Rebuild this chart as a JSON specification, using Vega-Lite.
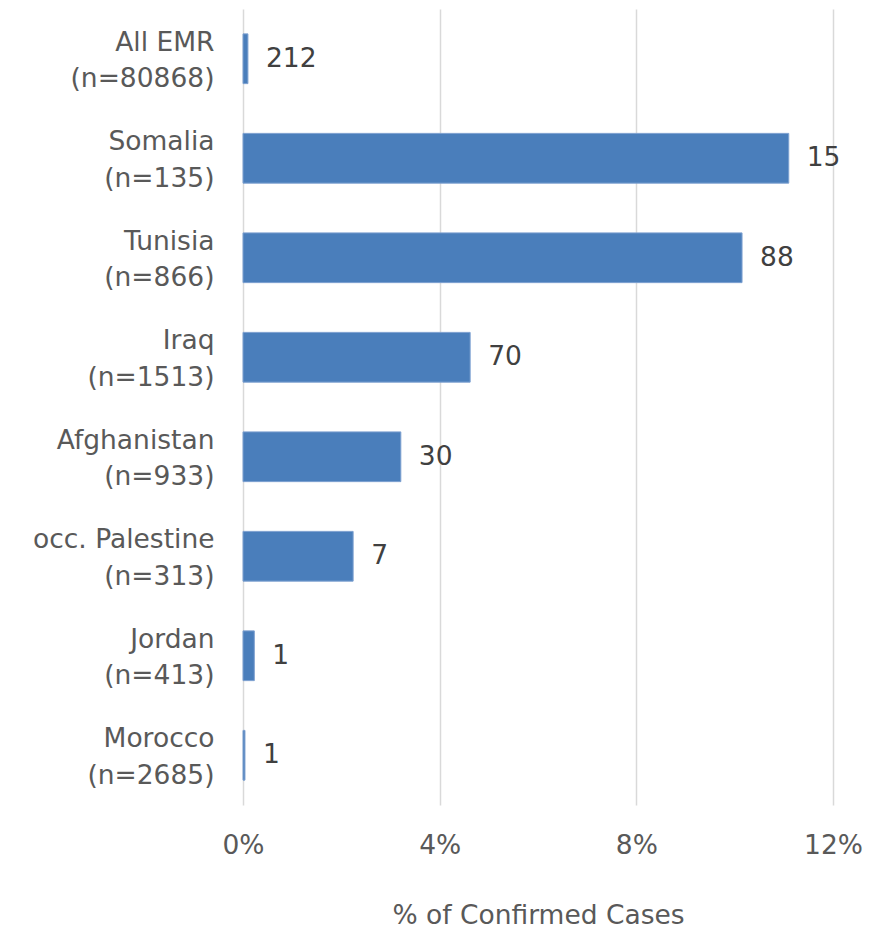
{
  "$schema": "https://vega.github.io/schema/vega-lite/v6.json",
  "width": 590,
  "height": 796,
  "autosize": {"type": "none"},
  "padding": {"left": 243, "top": 9, "right": 48, "bottom": 125},
  "background": "white",
  "config": {"view": {"stroke": null}, "font": "DejaVu Sans"},
  "data": {
    "values": [
      {"country": "All EMR|(n=80868)", "pct": 0.0010, "n": "212"},
      {"country": "Somalia|(n=135)", "pct": 0.1110, "n": "15"},
      {"country": "Tunisia|(n=866)", "pct": 0.1015, "n": "88"},
      {"country": "Iraq|(n=1513)", "pct": 0.0462, "n": "70"},
      {"country": "Afghanistan|(n=933)", "pct": 0.0321, "n": "30"},
      {"country": "occ. Palestine|(n=313)", "pct": 0.0224, "n": "7"},
      {"country": "Jordan|(n=413)", "pct": 0.0023, "n": "1"},
      {"country": "Morocco|(n=2685)", "pct": 0.0004, "n": "1"}
    ]
  },
  "encoding": {
    "y": {
      "field": "country",
      "type": "nominal",
      "sort": null,
      "scale": {"paddingInner": 0.5, "paddingOuter": 0.25},
      "axis": {
        "title": null,
        "domain": false,
        "ticks": false,
        "labelExpr": "split(datum.value, '|')",
        "labelFont": "DejaVu Sans",
        "labelFontSize": 26.5,
        "labelColor": "#595959",
        "labelPadding": 29,
        "labelAlign": "right",
        "labelLineHeight": 36.5,
        "labelOffset": -16,
        "labelLimit": 0
      }
    }
  },
  "layer": [
    {
      "mark": {"type": "bar", "color": "#4A7EBB", "stroke": "#7DA0D0", "strokeWidth": 1},
      "encoding": {
        "x": {
          "field": "pct",
          "type": "quantitative",
          "scale": {"domain": [0, 0.12], "nice": false},
          "axis": {
            "values": [0, 0.04, 0.08, 0.12],
            "format": ".0%",
            "grid": true,
            "gridColor": "#d9d9d9",
            "gridWidth": 1.5,
            "domain": false,
            "ticks": false,
            "labelFlush": false,
            "labelFont": "DejaVu Sans",
            "labelFontSize": 26.5,
            "labelColor": "#595959",
            "labelPadding": 27,
            "title": "% of Confirmed Cases",
            "titleFont": "DejaVu Sans",
            "titleFontSize": 26.5,
            "titleFontWeight": "normal",
            "titleColor": "#595959",
            "titlePadding": 44
          }
        }
      }
    },
    {
      "mark": {"type": "text", "align": "left", "baseline": "middle", "dx": 18, "fontSize": 26.5, "font": "DejaVu Sans", "color": "#404040"},
      "encoding": {
        "x": {"field": "pct", "type": "quantitative"},
        "text": {"field": "n", "type": "nominal"}
      }
    }
  ]
}
